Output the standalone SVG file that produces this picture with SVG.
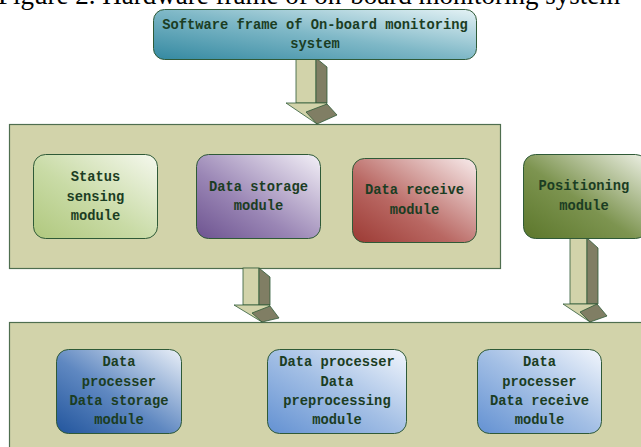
<svg xmlns="http://www.w3.org/2000/svg" width="641" height="447" viewBox="0 0 641 447">
<defs>
<style>
.cap{font-family:"Liberation Serif","Times New Roman",serif;font-size:27px;fill:#000}
.t{font-family:"Liberation Mono","Courier New",monospace;font-weight:bold;font-size:13.75px;fill:#1b3d23;text-anchor:middle}
.box{stroke:#2f5a37;stroke-width:1}
.cont{fill:#d2d3aa;stroke:#4f6e4f;stroke-width:1.2}
.af{fill:#d2d3aa;stroke:#2f5a37;stroke-width:0.8}
.ad{fill:#807e64;stroke:#2f5a37;stroke-width:0.8}
</style>
<linearGradient id="gTeal" x1="0" y1="1" x2="1" y2="0"><stop offset="0" stop-color="#3489a1"/><stop offset="0.5" stop-color="#7fb8c7"/><stop offset="1" stop-color="#e4f2f5"/></linearGradient>
<linearGradient id="gGreen" x1="0" y1="1" x2="1" y2="0"><stop offset="0" stop-color="#b0c87e"/><stop offset="0.45" stop-color="#c9dba6"/><stop offset="1" stop-color="#f5f8ee"/></linearGradient>
<linearGradient id="gPurple" x1="0" y1="1" x2="1" y2="0"><stop offset="0" stop-color="#6d5390"/><stop offset="0.4" stop-color="#9a86b5"/><stop offset="1" stop-color="#f3f0f7"/></linearGradient>
<linearGradient id="gRed" x1="0" y1="1" x2="1" y2="0"><stop offset="0" stop-color="#9c3a34"/><stop offset="0.4" stop-color="#b96863"/><stop offset="1" stop-color="#f8ecec"/></linearGradient>
<linearGradient id="gOlive" x1="0" y1="1" x2="1" y2="0"><stop offset="0" stop-color="#5c772b"/><stop offset="0.45" stop-color="#7d9450"/><stop offset="1" stop-color="#eef1e6"/></linearGradient>
<linearGradient id="gDBlue" x1="0" y1="1" x2="1" y2="0"><stop offset="0" stop-color="#22559d"/><stop offset="0.45" stop-color="#5f88c1"/><stop offset="1" stop-color="#eaf0f8"/></linearGradient>
<linearGradient id="gLBlue" x1="0" y1="1" x2="1" y2="0"><stop offset="0" stop-color="#6391d2"/><stop offset="0.5" stop-color="#a3bfe5"/><stop offset="1" stop-color="#f2f6fc"/></linearGradient>
</defs>
<rect width="641" height="447" fill="#ffffff"/>
<text class="cap" x="-2" y="4">Figure 2. Hardware frame of on-board monitoring system</text>

<g id="containers">
<rect id="mid-container" class="cont" x="9.5" y="124.5" width="491" height="144"/>
<rect id="bottom-container" class="cont" x="9.5" y="322.5" width="640" height="140"/>
</g>

<g id="connectors">
<g id="arrow1">
<rect class="af" x="296" y="58" width="20" height="45"/>
<polygon class="ad" points="316,58 327,67 327,103 316,103"/>
<polygon class="af" points="286,103 327,103 317,124"/>
<polygon class="ad" points="306,112 327,104 337,115 317,124"/>
</g>
<g id="arrow2">
<rect class="af" x="243" y="268" width="16" height="37"/>
<polygon class="ad" points="259,268 270,277 270,305 259,305"/>
<polygon class="af" points="234,305 270,305 262,322"/>
<polygon class="ad" points="252,313 270,306 279,318 262,322"/>
</g>
<g id="arrow3">
<rect class="af" x="570" y="238" width="17" height="66"/>
<polygon class="ad" points="587,238 598,248 598,304 587,304"/>
<polygon class="af" points="563,304 597,304 590,322"/>
<polygon class="ad" points="580,312 597,304 607,316 590,322"/>
</g>
</g>

<g id="top-node">
<rect class="box" x="153.5" y="9.5" width="323" height="50" rx="11" fill="url(#gTeal)"/>
<text class="t" x="315" y="29">Software frame of On-board monitoring</text>
<text class="t" x="315" y="48">system</text>
</g>

<g id="status-sensing">
<rect class="box" x="33.5" y="154.5" width="124" height="84" rx="12" fill="url(#gGreen)"/>
<text class="t" x="95.5" y="181">Status</text>
<text class="t" x="95.5" y="201">sensing</text>
<text class="t" x="95.5" y="220">module</text>
</g>

<g id="data-storage">
<rect class="box" x="196.5" y="154.5" width="124" height="84" rx="12" fill="url(#gPurple)"/>
<text class="t" x="258.5" y="191">Data storage</text>
<text class="t" x="258.5" y="210">module</text>
</g>

<g id="data-receive">
<rect class="box" x="352.5" y="158.5" width="124" height="84" rx="12" fill="url(#gRed)"/>
<text class="t" x="414.5" y="194">Data receive</text>
<text class="t" x="414.5" y="214">module</text>
</g>

<g id="positioning">
<rect class="box" x="523.5" y="154.5" width="124" height="84" rx="12" fill="url(#gOlive)"/>
<text class="t" x="584" y="190">Positioning</text>
<text class="t" x="584" y="210">module</text>
</g>

<g id="dp-storage">
<rect class="box" x="56.5" y="349.5" width="125" height="84" rx="12" fill="url(#gDBlue)"/>
<text class="t" x="119" y="366">Data</text>
<text class="t" x="119" y="386">processer</text>
<text class="t" x="119" y="405">Data storage</text>
<text class="t" x="119" y="424">module</text>
</g>

<g id="dp-preprocessing">
<rect class="box" x="267.5" y="349.5" width="139" height="84" rx="12" fill="url(#gLBlue)"/>
<text class="t" x="337" y="366">Data processer</text>
<text class="t" x="337" y="386">Data</text>
<text class="t" x="337" y="405">preprocessing</text>
<text class="t" x="337" y="424">module</text>
</g>

<g id="dp-receive">
<rect class="box" x="477.5" y="349.5" width="124" height="84" rx="12" fill="url(#gLBlue)"/>
<text class="t" x="539.5" y="366">Data</text>
<text class="t" x="539.5" y="386">processer</text>
<text class="t" x="539.5" y="405">Data receive</text>
<text class="t" x="539.5" y="424">module</text>
</g>
</svg>
